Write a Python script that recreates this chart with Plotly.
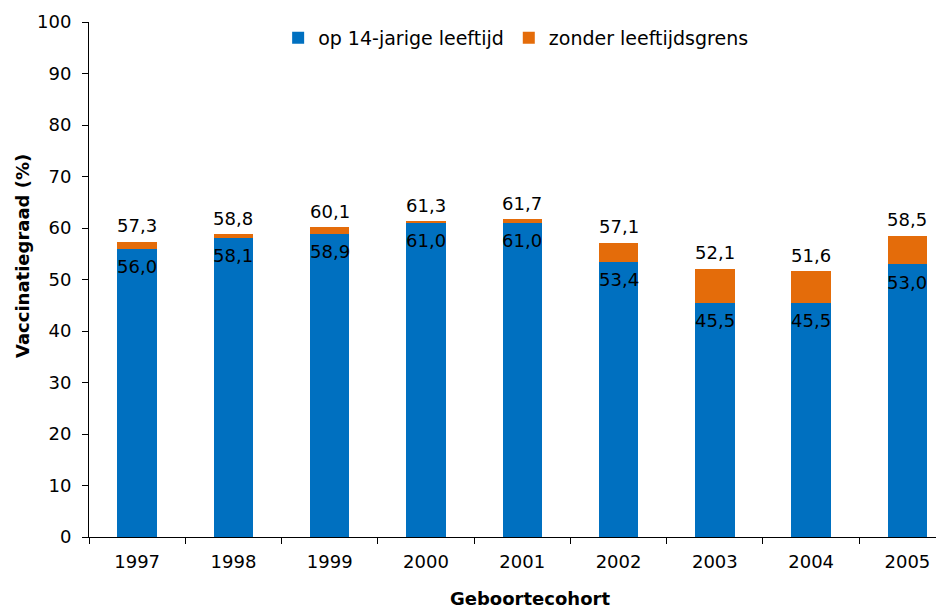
import plotly.graph_objects as go

years = ["1997", "1998", "1999", "2000", "2001", "2002", "2003", "2004", "2005"]
op14 = [56.0, 58.1, 58.9, 61.0, 61.0, 53.4, 45.5, 45.5, 53.0]
totaal = [57.3, 58.8, 60.1, 61.3, 61.7, 57.1, 52.1, 51.6, 58.5]
zonder = [round(t - b, 1) for t, b in zip(totaal, op14)]

def fmt(v):
    return f"{v:.1f}".replace(".", ",")

FONT = "DejaVu Sans"
BLUE = "#0070C0"
ORANGE = "#E46C0A"

fig = go.Figure()
fig.add_trace(go.Bar(x=years, y=op14, name="op 14-jarige leeftijd",
                     marker=dict(color=BLUE, line=dict(width=0)), width=0.41))
fig.add_trace(go.Bar(x=years, y=zonder, name="zonder leeftijdsgrens",
                     marker=dict(color=ORANGE, line=dict(width=0)), width=0.41))

annotations = []
for i, (b, t) in enumerate(zip(op14, totaal)):
    annotations.append(dict(x=i, y=b, xref="x", yref="y", text=fmt(b), showarrow=False,
                            yanchor="middle", yshift=-18,
                            font=dict(family=FONT, size=18, color="black")))
    annotations.append(dict(x=i, y=t, xref="x", yref="y", text=fmt(t), showarrow=False,
                            yanchor="middle", yshift=16,
                            font=dict(family=FONT, size=18, color="black")))
annotations.append(dict(x=0.516, y=-0.120, xref="paper", yref="paper", text="<b>Geboortecohort</b>",
                        showarrow=False, xanchor="center", yanchor="middle",
                        font=dict(family=FONT, size=18, color="black")))
annotations.append(dict(x=-0.0784, y=0.5456, xref="paper", yref="paper", text="<b>Vaccinatiegraad (%)</b>",
                        showarrow=False, xanchor="center", yanchor="middle", textangle=-90,
                        font=dict(family=FONT, size=18, color="black")))

fig.update_layout(
    width=936, height=602,
    barmode="stack",
    plot_bgcolor="white", paper_bgcolor="white",
    margin=dict(l=81, r=0, t=14, b=73),
    font=dict(family=FONT, size=18, color="black"),
    legend=dict(orientation="h", x=0.499, xanchor="center", y=0.969, yanchor="middle",
                font=dict(family=FONT, size=19), bgcolor="rgba(0,0,0,0)",
                traceorder="normal", itemwidth=30),
    showlegend=True,
    annotations=annotations,
)
fig.update_xaxes(
    type="category",
    range=[-0.5, 8.38], showline=True, linecolor="black", linewidth=1,
    ticks="outside", tickson="boundaries", ticklen=6, tickcolor="black",
    tickfont=dict(family=FONT, size=18), automargin=False, ticklabelstandoff=8,
    showgrid=False,
)
fig.update_yaxes(
    range=[0, 100], dtick=10, showline=True, linecolor="black", linewidth=1,
    ticks="outside", ticklen=6, tickcolor="black",
    tickfont=dict(family=FONT, size=18), automargin=False, ticklabelstandoff=7,
    showgrid=False, zeroline=False,
)

fig.write_html("out.html")
